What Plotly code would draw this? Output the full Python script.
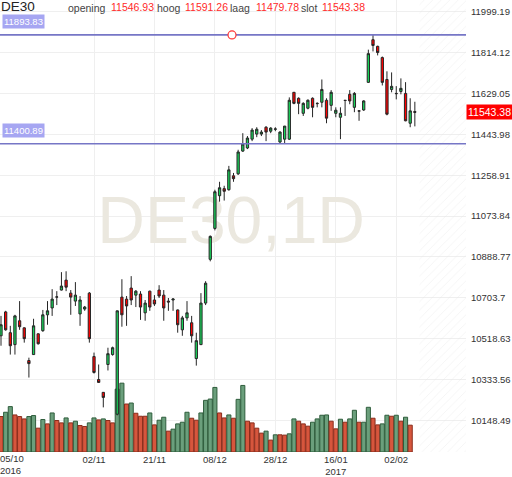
import pandas as pd
import plotly.graph_objects as go

# ---------------- data ----------------
dates = [d for d in pd.bdate_range("2016-10-05", "2017-02-08") if d.strftime("%Y-%m-%d") != "2016-12-26"]

open_ = [10532, 10640, 10546, 10492, 10600, 10568, 10420, 10447, 10541, 10555,
         10627, 10658, 10707, 10739, 10784, 10725, 10689, 10631, 10653, 10725,
         10438, 10334, 10276, 10402, 10447, 10177, 10707, 10698, 10748, 10716,
         10721, 10636, 10734, 10694, 10739, 10716, 10689, 10694, 10649, 10559,
         10613, 10591, 10429, 10492, 10680, 10878, 11018, 11166, 11198, 11193,
         11256, 11265, 11368, 11382, 11422, 11445, 11445, 11476, 11458, 11467,
         11409, 11422, 11422, 11634, 11607, 11539, 11562, 11607, 11584, 11589,
         11598, 11575, 11539, 11521, 11598, 11625, 11566, 11550, 11554, 11679,
         11872, 11842, 11791, 11692, 11647, 11629, 11638, 11629, 11494, 11546.93]

high = [10622, 10645, 10577, 10627, 10689, 10570, 10433, 10609, 10543, 10649,
        10689, 10743, 10734, 10820, 10824, 10739, 10775, 10712, 10667, 10730,
        10456, 10402, 10277, 10478, 10483, 10646, 10788, 10712, 10802, 10739,
        10734, 10694, 10736, 10716, 10761, 10739, 10703, 10703, 10651, 10622,
        10689, 10622, 10546, 10725, 10779, 10986, 11193, 11229, 11211, 11301,
        11269, 11374, 11449, 11436, 11472, 11476, 11463, 11481, 11476, 11476,
        11458, 11482, 11611, 11635, 11611, 11589, 11602, 11611, 11589, 11692,
        11607, 11644, 11566, 11566, 11599, 11644, 11635, 11553, 11598, 11827,
        11893.83, 11845, 11796, 11729, 11724, 11662, 11697, 11680, 11607, 11591.26]

low = [10487, 10555, 10447, 10447, 10559, 10501, 10343, 10445, 10492, 10550,
       10582, 10622, 10671, 10737, 10734, 10627, 10667, 10577, 10645, 10501,
       10361, 10319, 10208, 10375, 10442, 10172, 10573, 10577, 10671, 10662,
       10604, 10600, 10645, 10667, 10703, 10600, 10645, 10645, 10546, 10532,
       10600, 10501, 10397, 10490, 10671, 10869, 11009, 11139, 11144, 11189,
       11229, 11260, 11364, 11377, 11413, 11431, 11436, 11413, 11449, 11458,
       11400.89, 11404, 11418, 11580, 11535, 11527, 11557, 11521, 11566, 11566,
       11494, 11550, 11521, 11422, 11527, 11580, 11544, 11505, 11550, 11677,
       11819, 11801, 11665, 11530, 11634, 11602, 11625, 11503, 11476, 11479.78]

close = [10582, 10559, 10487, 10622, 10573, 10519, 10406, 10577, 10496, 10627,
         10645, 10698, 10708, 10757, 10752, 10707, 10716, 10694, 10662, 10519,
         10366, 10321, 10253, 10451, 10478, 10645, 10627, 10667, 10694, 10734,
         10662, 10680, 10662, 10676, 10712, 10658, 10685, 10698, 10582, 10613,
         10636, 10532, 10510, 10680, 10770, 10982, 11184, 11202, 11186, 11283,
         11243, 11364, 11400, 11427, 11463, 11467, 11454, 11454, 11472, 11468,
         11454, 11481, 11598, 11584, 11584, 11584, 11598, 11566, 11583, 11647,
         11517, 11634, 11553, 11539, 11597, 11595, 11629, 11549, 11595, 11809,
         11846, 11814, 11679, 11535, 11661, 11628, 11652, 11505, 11550, 11543.38]

volume = [3570, 4000, 4570, 3730, 3570, 3330, 3570, 3670, 2400, 3270,
          2830, 3930, 3170, 2930, 3430, 2930, 3100, 2670, 2570, 2930,
          3430, 3230, 3330, 3170, 2930, 6330, 6930, 4830, 4930, 3900,
          3600, 3600, 3930, 2730, 3200, 3500, 2100, 2300, 2830, 3000,
          4000, 3400, 3200, 3930, 5200, 5330, 6500, 3930, 3430, 3730,
          3400, 5300, 6700, 3100, 2930, 2400, 1900, 2100, 1200, 1730,
          1730, 1700, 1830, 3330, 3100, 2830, 2600, 3000, 3330, 3700,
          3730, 3100, 2330, 3300, 3000, 3330, 4200, 3000, 3000, 4500,
          3400, 2730, 2830, 3700, 3600, 3700, 3100, 3500, 2700, None]

volume_up = [0, 1, 1, 0, 0, 0, 1, 1, 0, 1,
             0, 1, 0, 0, 1, 0, 1, 0, 0, 1,
             1, 0, 1, 0, 0, 1, 1, 0, 1, 0,
             0, 0, 1, 0, 1, 1, 0, 1, 1, 1,
             1, 0, 0, 1, 1, 1, 1, 0, 0, 1,
             0, 1, 1, 0, 0, 0, 0, 1, 0, 1,
             0, 0, 1, 1, 0, 0, 0, 1, 1, 1,
             1, 0, 0, 1, 0, 1, 1, 0, 1, 1,
             0, 0, 1, 1, 0, 1, 0, 1, 0, 0]

price_ticks = [10148.49, 10333.56, 10518.63, 10703.7, 10888.77, 11073.84,
               11258.91, 11443.98, 11629.05, 11814.12, 11999.19]
x_tick_dates = ["2016-10-05", "2016-11-02", "2016-11-21", "2016-12-08",
                "2016-12-28", "2017-01-16", "2017-02-02"]
level_lines = [11893.83, 11400.89]
header_labels = ["opening", "hoog", "laag", "slot"]
symbol = "DE30"
timeframe = "1D"

# ---------------- layout constants ----------------
W, H = 512, 477
ML, MR, MT, MB = 0, 46, 0, 22
PW, PH = W - ML - MR, H - MT - MB
x_range = [-0.215, 100.0]
price_range = [10006.0, 12051.8]
vol_range = [0, 45500]
FONT = "Arial, Liberation Sans, sans-serif"

n = len(close)
idx = list(range(n))
date_str = [d.strftime("%Y-%m-%d") for d in dates]
tick_idx = [date_str.index(d) for d in x_tick_dates]


def tick_label(d, i):
    ts = pd.Timestamp(d)
    if i == 0:
        return ""
    prev_year = pd.Timestamp(x_tick_dates[i - 1]).year
    lab = ts.strftime("%d/%m")
    return lab + "<br>" + ts.strftime("%Y") if ts.year != prev_year else lab


tick_text = [tick_label(d, i) for i, d in enumerate(x_tick_dates)]

fig = go.Figure()

# hatched "future" zone
fig.add_trace(go.Scatter(
    x=[n, x_range[1], x_range[1], n, n],
    y=[vol_range[0], vol_range[0], vol_range[1], vol_range[1], vol_range[0]],
    mode="none", fill="toself", fillcolor="rgba(0,0,0,0)",
    fillpattern=dict(shape="/", fgcolor="#e3e3e3", bgcolor="rgba(255,255,255,0)",
                     size=6, solidity=0.12),
    hoverinfo="skip", yaxis="y"))

# watermark
fig.add_trace(go.Scatter(
    x=[x_range[0] + 0.496 * (x_range[1] - x_range[0])],
    y=[vol_range[0] + 0.498 * (vol_range[1] - vol_range[0])],
    mode="text", text=[f"{symbol},{timeframe}"],
    textfont=dict(size=66, color="#ebe8df", family=FONT),
    textposition="middle center", hoverinfo="skip", yaxis="y"))

# volume
fig.add_trace(go.Bar(
    x=idx, y=volume, yaxis="y",
    marker=dict(color=["#6b9f7c" if u else "#d6563d" for u in volume_up],
                line=dict(color=["#2f5d3c" if u else "#8a2d1c" for u in volume_up], width=1)),
    hoverinfo="skip"))

# candles
fig.add_trace(go.Candlestick(
    x=idx, open=open_, high=high, low=low, close=close, yaxis="y2",
    increasing=dict(fillcolor="#19d35a", line=dict(color="#262626", width=1)),
    decreasing=dict(fillcolor="#ff0000", line=dict(color="#262626", width=1)),
    whiskerwidth=0, hoverinfo="skip"))

shapes = []
for lv in level_lines:
    shapes.append(dict(type="line", xref="paper", x0=0, x1=1, yref="y2", y0=lv, y1=lv,
                       line=dict(color="#7676c6", width=1.6), layer="above"))
shapes.append(dict(type="circle", xref="paper", xsizemode="pixel", xanchor=232 / PW,
                   x0=-4, x1=4, yref="y2", ysizemode="pixel", yanchor=level_lines[0],
                   y0=-4, y1=4, line=dict(color="#ff3333", width=1.2),
                   fillcolor="white", layer="above"))

ann = []
for lv in level_lines:
    ann.append(dict(xref="paper", x=0, xanchor="left", xshift=2, yref="y2", y=lv,
                    yanchor="middle", yshift=13, text=f"{lv:.2f}", showarrow=False,
                    bgcolor="#a6a6f2", borderpad=1,
                    font=dict(family=FONT, size=9.5, color="white")))

# last price tag
ann.append(dict(xref="paper", x=1, xanchor="left", xshift=0, yref="y2", y=close[-1],
                yanchor="middle", text=f"{close[-1]:.2f}", showarrow=False,
                bgcolor="#ff0000", borderpad=1,
                font=dict(family=FONT, size=10.5, color="white")))

# header
ann.append(dict(xref="paper", x=0, xanchor="left", xshift=-1, yref="paper", y=1,
                yanchor="top", yshift=3, text=symbol, showarrow=False,
                font=dict(family=FONT, size=13.5, color="#222")))
header_vals = [open_[-1], high[-1], low[-1], close[-1]]
label_px = [68, 157, 230, 301]
value_px = [111, 185, 256, 322]
for lab, val, lp, vp in zip(header_labels, header_vals, label_px, value_px):
    ann.append(dict(xref="paper", x=lp / PW, xanchor="left", xshift=-2, yref="paper", y=1,
                    yanchor="top", yshift=0, text=lab, showarrow=False,
                    font=dict(family=FONT, size=10.5, color="#444")))
    ann.append(dict(xref="paper", x=vp / PW, xanchor="left", xshift=-2, yref="paper", y=1,
                    yanchor="top", yshift=1, text=f"{val:.2f}", showarrow=False,
                    font=dict(family=FONT, size=10.5, color="#ff2a2a")))

# first date label (left-aligned so it stays inside the canvas)
first = pd.Timestamp(x_tick_dates[0])
ann.append(dict(xref="paper", x=0, xanchor="left", xshift=-2, yref="paper", y=0,
                yanchor="top", yshift=1, align="left",
                text=first.strftime("%d/%m") + "<br>" + first.strftime("%Y"),
                showarrow=False, font=dict(family=FONT, size=9.5, color="#333")))

fig.update_layout(
    width=W, height=H, margin=dict(l=ML, r=MR, t=MT, b=MB),
    paper_bgcolor="white", plot_bgcolor="white", showlegend=False,
    bargap=0.12, shapes=shapes, annotations=ann, hovermode=False,
    xaxis=dict(range=x_range, tickvals=tick_idx, ticktext=tick_text, showgrid=True,
               gridcolor="#efefef", gridwidth=1, zeroline=False, showline=False, ticks="",
               tickfont=dict(family=FONT, size=9.5, color="#333"),
               rangeslider=dict(visible=False), fixedrange=True),
    yaxis=dict(range=vol_range, visible=False, showgrid=False, fixedrange=True),
    yaxis2=dict(range=price_range, overlaying="y", side="right", tickvals=price_ticks,
                ticktext=[str(t) for t in price_ticks], showgrid=True, gridcolor="#efefef",
                zeroline=False, showline=False, ticks="", ticklabelstandoff=4,
                tickfont=dict(family=FONT, size=9.5, color="#333"), fixedrange=True),
)

fig.write_html("out.html", config={"displayModeBar": False},
               post_script="document.body.style.margin='0';document.body.style.overflow='hidden';")
